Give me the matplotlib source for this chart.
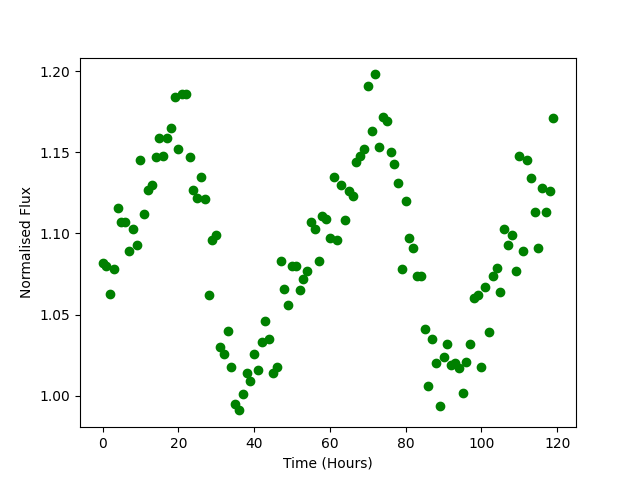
import matplotlib
matplotlib.use("Agg")
import matplotlib.pyplot as plt
import numpy as np

hours = list(range(120))
flux = [
    1.082, 1.080, 1.063, 1.078, 1.116, 1.107, 1.107, 1.089, 1.103, 1.093,
    1.145, 1.112, 1.127, 1.130, 1.147, 1.159, 1.148, 1.159, 1.165, 1.184,
    1.152, 1.186, 1.186, 1.147, 1.127, 1.122, 1.135, 1.121, 1.062, 1.096,
    1.099, 1.030, 1.026, 1.040, 1.018, 0.995, 0.991, 1.001, 1.014, 1.009,
    1.026, 1.016, 1.033, 1.046, 1.035, 1.014, 1.018, 1.083, 1.066, 1.056,
    1.080, 1.080, 1.065, 1.072, 1.077, 1.107, 1.103, 1.083, 1.111, 1.109,
    1.097, 1.135, 1.096, 1.130, 1.108, 1.126, 1.123, 1.144, 1.148, 1.152,
    1.191, 1.163, 1.198, 1.153, 1.172, 1.169, 1.150, 1.143, 1.131, 1.078,
    1.120, 1.097, 1.091, 1.074, 1.074, 1.041, 1.006, 1.035, 1.020, 0.994,
    1.024, 1.032, 1.019, 1.020, 1.017, 1.002, 1.021, 1.032, 1.060, 1.062,
    1.018, 1.067, 1.039, 1.074, 1.079, 1.064, 1.103, 1.093, 1.099, 1.077,
    1.148, 1.089, 1.145, 1.134, 1.113, 1.091, 1.128, 1.113, 1.126, 1.171,
]

fig, ax = plt.subplots(figsize=(6.4, 4.8), dpi=100)
ax.plot(hours, flux, 'o', color='green')
ax.set_xlabel('Time (Hours)')
ax.set_ylabel('Normalised Flux')
fig.savefig('out.png')
